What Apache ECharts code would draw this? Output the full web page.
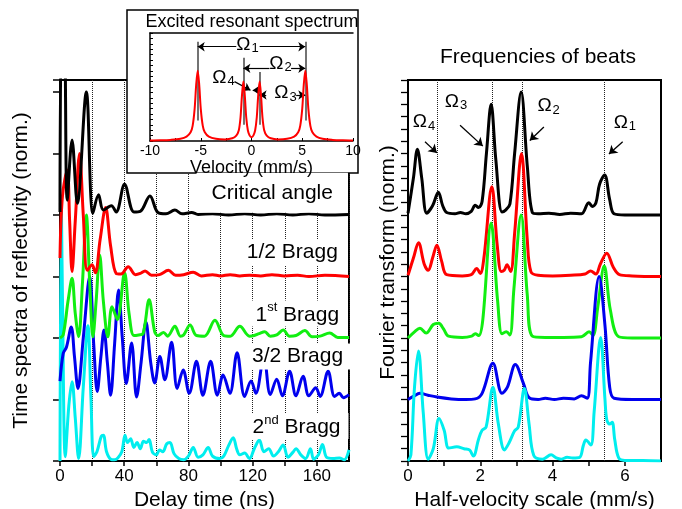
<!DOCTYPE html>
<html><head><meta charset="utf-8">
<script src="https://cdn.jsdelivr.net/npm/echarts/dist/echarts.min.js"></script>
<style>html,body{margin:0;padding:0;background:#fff}#c{width:682px;height:509px}</style>
</head><body><div id="c"></div>
<script>
// ---------- LEFT PANEL: time spectra (delay time ns, normalized value above each baseline) ----------
const timeCritical = [[0,0.05],[1,3.0],[2.6,3.0],[4.5,0.24],[7.5,1.22],[10.8,0.19],[16.4,2.0],[20.5,0.03],[24,0.33],[27,0.08],[32,0.15],[35,0.05],[40.2,0.5],[46,0.05],[50,0.06],[56,0.31],[61,0.04],[66,0.02],[71.5,0.08],[76,0.02],[82,0.04],[86,0.01],[95,0.02],[105,0.0],[115,0.02],[125,0.0],[135,0.02],[145,0.0],[155,0.02],[165,0.0],[180,0.01]];
const timeHalfBragg = [[0,0.3],[1.5,1.3],[4.5,1.73],[6,0.9],[7.5,0.08],[9.5,0.9],[12.2,2.0],[14.5,1.0],[17,0.1],[20,0.19],[22,0.06],[25,0.6],[28.4,1.12],[31.5,0.5],[35,0.05],[38,0.04],[42.5,0.16],[47,0.03],[50,0.05],[53,0.09],[57,0.02],[62,0.03],[67.5,0.1],[72,0.02],[77,0.03],[83,0.07],[88,0.01],[95,0.03],[100,0.01],[106,0.03],[112,0.01],[118,0.02],[125,0.01],[132,0.03],[140,0.01],[148,0.02],[155,0.0],[165,0.02],[180,0.0]];
const timeFirstBragg = [[0,0.0],[2,0.05],[5,0.6],[7.5,0.97],[9.5,0.4],[11.6,0.02],[14,0.9],[16.4,2.0],[18.5,0.9],[20.5,0.02],[22.5,0.6],[24.7,1.35],[27,0.6],[29.8,0.02],[32.4,0.51],[35.7,0.3],[40.2,1.06],[43,0.4],[46,0.04],[49,0.05],[51.7,0.07],[55.5,0.62],[59,0.1],[61,0.04],[64.5,0.09],[67,0.03],[71.6,0.19],[75,0.03],[77,0.05],[81,0.21],[85,0.04],[90,0.03],[96.5,0.29],[102,0.04],[106,0.03],[112,0.19],[118,0.03],[121,0.04],[124,0.07],[127.6,0.1],[131,0.03],[135,0.05],[139,0.13],[143,0.03],[147,0.04],[152.5,0.12],[157,0.02],[162,0.03],[168,0.08],[173,0.01],[180,0.01]];
const timeThreeHalfBragg = [[0,0.3],[2,0.75],[4,0.85],[7,1.18],[9,0.7],[11.2,0.18],[14.5,1.0],[18.5,2.0],[21,0.9],[23.2,0.13],[25.5,0.7],[27.4,1.13],[29.5,0.6],[31.5,0.07],[34,0.9],[36.5,1.78],[38.8,1.0],[41.3,0.26],[44.6,0.92],[47.7,0.04],[50.5,0.6],[53.5,1.26],[56.5,0.6],[59,0.27],[62.2,0.7],[65.3,0.32],[69.5,0.93],[73,0.18],[76.7,0.48],[80.5,0.1],[85,0.62],[89,0.07],[93.8,0.62],[98,0.07],[101.6,0.4],[105.8,0.1],[110.3,0.76],[115,0.05],[119,0.3],[122,0.1],[127,0.7],[131,0.08],[135,0.33],[138.5,0.06],[143,0.46],[147,0.06],[151.4,0.38],[155,0.06],[159.3,0.19],[162,0.05],[167,0.46],[171,0.05],[174,0.1],[176.5,0.03],[180,0.08]];
const timeSecondBragg = [[0,0],[0.8,4.3],[1.6,2.5],[3.3,0.07],[5.5,0.9],[7.5,1.29],[9.5,0.7],[11.6,0.04],[14.5,1.2],[17.4,2.2],[19.3,1.0],[21,0.07],[23,0.15],[25.7,0.4],[27,0.42],[29,0.15],[31.6,0.03],[34,0.02],[36,0.05],[38.5,0.15],[40.5,0.42],[42,0.3],[44,0.36],[46,0.22],[48,0.3],[50,0.2],[52,0.32],[54,0.3],[55.5,0.35],[57.5,0.15],[60,0.1],[62,0.18],[64,0.15],[66.5,0.28],[68.5,0.3],[71,0.12],[74,0.04],[77,0.02],[80,0.08],[83,0.22],[86,0.06],[89,0.1],[92.3,0.22],[95,0.08],[99.5,0.04],[102,0.08],[105,0.25],[107.9,0.38],[110,0.2],[112,0.1],[115,0.13],[118,0.04],[121,0.2],[124.2,0.34],[127,0.15],[130,0.2],[133,0.08],[136,0.15],[139,0.26],[142,0.06],[145,0.14],[147,0.2],[150,0.1],[153,0.04],[156,0.2],[158,0.03],[161,0.1],[163.5,0.27],[166,0.06],[170,0.04],[174,0.05],[177,0.02],[180,0.18]];

// ---------- RIGHT PANEL: Fourier transform (half-velocity mm/s, normalized) ----------
const ftCritical = [[0,0.03],[0.15,0.6],[0.26,1.07],[0.38,0.6],[0.52,0.03],[0.68,0.15],[0.84,0.37],[0.96,0.15],[1.07,0.04],[1.3,0.02],[1.45,0.04],[1.6,0.02],[1.75,0.06],[1.86,0.16],[1.95,0.12],[2.05,0.22],[2.17,1.0],[2.3,1.8],[2.43,0.9],[2.6,0.05],[2.7,0.08],[2.82,0.18],[2.95,1.0],[3.13,2.0],[3.3,0.8],[3.44,0.04],[3.6,0.02],[3.9,0.03],[4.2,0.01],[4.5,0.03],[4.8,0.02],[5.0,0.2],[5.1,0.14],[5.2,0.2],[5.3,0.5],[5.44,0.65],[5.58,0.25],[5.7,0.02],[6.0,0.0],[7,0.0]];
const ftHalfBragg = [[0,0.02],[0.15,0.3],[0.29,0.55],[0.45,0.2],[0.56,0.1],[0.68,0.3],[0.8,0.51],[0.93,0.25],[1.07,0.03],[1.5,0.01],[1.75,0.03],[1.9,0.13],[2.0,0.05],[2.1,0.3],[2.32,1.46],[2.47,0.5],[2.58,0.08],[2.66,0.1],[2.74,0.19],[2.84,0.08],[2.95,0.7],[3.14,2.0],[3.3,0.6],[3.4,0.08],[3.6,0.02],[4.0,0.01],[4.5,0.02],[4.9,0.04],[5.05,0.09],[5.2,0.04],[5.32,0.2],[5.5,0.38],[5.68,0.15],[5.85,0.03],[6.2,0.01],[7,0.0]];
const ftFirstBragg = [[0,0.0],[0.18,0.1],[0.33,0.16],[0.5,0.08],[0.7,0.22],[0.85,0.24],[0.98,0.15],[1.12,0.03],[1.5,0.01],[1.76,0.03],[1.86,0.07],[1.96,0.04],[2.07,0.3],[2.3,1.87],[2.48,0.6],[2.6,0.07],[2.72,0.1],[2.82,0.05],[2.93,0.8],[3.13,2.0],[3.3,0.7],[3.44,0.03],[3.8,0.01],[4.3,0.01],[4.8,0.02],[5.01,0.1],[5.12,0.04],[5.25,0.5],[5.43,1.17],[5.6,0.45],[5.83,0.02],[6.2,0.0],[7,0.0]];
const ftThreeHalfBragg = [[0,0.0],[0.15,0.05],[0.33,0.1],[0.55,0.07],[0.8,0.04],[1.2,0.01],[1.6,0.0],[1.86,0.01],[2.05,0.1],[2.35,0.59],[2.6,0.1],[2.75,0.2],[2.97,0.57],[3.2,0.25],[3.35,0.03],[3.6,0.0],[3.8,0.02],[4.05,0.0],[4.3,0.02],[4.6,0.01],[4.8,0.06],[4.96,0.02],[5.05,0.6],[5.29,2.0],[5.45,1.2],[5.58,0.2],[5.7,0.02],[6.2,0.0],[7,0.0]];
const ftSecondBragg = [[0,0.0],[0.08,0.1],[0.18,1.2],[0.29,1.79],[0.42,0.8],[0.56,0.03],[0.7,0.2],[0.86,0.69],[1.0,0.5],[1.13,0.21],[1.35,0.23],[1.55,0.2],[1.7,0.18],[1.81,0.08],[1.95,0.35],[2.05,0.5],[2.16,0.55],[2.35,1.2],[2.5,0.6],[2.67,0.18],[2.8,0.3],[2.95,0.49],[3.05,0.55],[3.22,1.18],[3.35,0.6],[3.48,0.09],[3.72,0.03],[3.96,0.1],[4.1,0.05],[4.24,0.03],[4.4,0.06],[4.56,0.05],[4.75,0.06],[4.85,0.25],[4.92,0.34],[5.06,0.26],[5.15,0.8],[5.33,2.01],[5.45,1.0],[5.5,0.67],[5.58,0.6],[5.65,0.63],[5.72,0.35],[5.83,0.05],[6.0,0.01],[6.5,0.01],[7,0.0]];

// vertical offsets of each stacked curve (one unit per curve)
const curveOffsets = [4, 3, 2, 1, 0];
const curveNames = ['Critical angle', '1/2 Bragg', '1st Bragg', '3/2 Bragg', '2nd Bragg'];
const beatFrequencies = [0.8, 2.32, 3.17, 5.42];

// ---------- INSET: excited resonant spectrum ----------
const velocity = [-10,-9,-8,-7,-6.4,-6,-5.8,-5.6,-5.45,-5.3,-5.15,-5,-4.8,-4.6,-4.2,-3.5,-2.6,-1.9,-1.5,-1.25,-1.08,-0.94,-0.8,-0.66,-0.52,-0.36,-0.18,0,0.18,0.36,0.52,0.66,0.8,0.94,1.08,1.25,1.5,1.9,2.6,3.5,4.2,4.6,4.8,5,5.15,5.3,5.45,5.6,5.8,6,6.4,7,8,9,10];
const absorption = [0.004,0.006,0.01,0.02,0.04,0.08,0.14,0.3,0.52,0.65,0.52,0.3,0.14,0.08,0.04,0.02,0.015,0.025,0.05,0.1,0.22,0.42,0.55,0.42,0.22,0.1,0.05,0.035,0.05,0.1,0.22,0.42,0.55,0.42,0.22,0.1,0.05,0.025,0.015,0.02,0.04,0.08,0.14,0.3,0.52,0.65,0.52,0.3,0.14,0.08,0.04,0.02,0.01,0.006,0.004];

const FONT = 'Liberation Sans, Arial, Helvetica, sans-serif';
const shift = (arr, off) => arr.map(p => [p[0], p[1] + off]);

const leftSets = [timeCritical, timeHalfBragg, timeFirstBragg, timeThreeHalfBragg, timeSecondBragg];
const rightSets = [ftCritical, ftHalfBragg, ftFirstBragg, ftThreeHalfBragg, ftSecondBragg];
const colors = ['#000000', '#ff0000', '#11ee11', '#0000ee', '#00eeee'];

const chart = echarts.init(document.getElementById('c'), null, {renderer: 'canvas'});

const series = [];
[4,3,2,1,0].forEach(i => {
  series.push({
    type: 'line', xAxisIndex: 0, yAxisIndex: 0, name: curveNames[i],
    data: shift(leftSets[i], curveOffsets[i]),
    smooth: 0.35, showSymbol: false, symbol: 'none', clip: true, z: 2,
    lineStyle: {color: colors[i], width: 3}, silent: true, animation: false
  });
});
[0,1,2,3,4].forEach(i => {
  series.push({
    type: 'line', xAxisIndex: 1, yAxisIndex: 1, name: 'ft' + i,
    data: shift(rightSets[i], curveOffsets[i]),
    smooth: 0.35, showSymbol: false, symbol: 'none', clip: true, z: 2,
    lineStyle: {color: colors[i], width: 3}, silent: true, animation: false
  });
});

const sub = (d) => '{o|Ω}{s|' + d + '}';
const omegaRich = {
  o: {fontSize: 19, lineHeight: 20, verticalAlign: 'top', fontFamily: FONT, color: '#000'},
  s: {fontSize: 13, lineHeight: 13, verticalAlign: 'bottom', padding: [14, 0, 0, 1], fontFamily: FONT, color: '#000'}
};

const labelPos = [[132.2, 4.36], [144.7, 3.40], [147.8, 2.40], [148, 1.70], [147.3, 0.57]];
const labelText = ['Critical angle', '1/2 Bragg', '{a|1}{p|st}{a| Bragg}', '3/2 Bragg', '{a|2}{p|nd}{a| Bragg}'];
series.push({
  type: 'line', xAxisIndex: 0, yAxisIndex: 0, data: [], silent: true,
  markPoint: {
    z: 5, symbol: 'circle', symbolSize: 0, animation: false,
    data: labelPos.map((p, i) => ({
      coord: p,
      label: {
        show: true, position: 'inside', formatter: labelText[i],
        fontSize: 21, fontFamily: FONT, color: '#000', lineHeight: 24,
        backgroundColor: '#fff', padding: i === 0 ? [8, 15, 8, 15] : [1, 8, 1, 8],
        rich: {
          a: {fontSize: 21, lineHeight: 24, verticalAlign: 'bottom', fontFamily: FONT, color: '#000'},
          p: {fontSize: 13, lineHeight: 13, verticalAlign: 'top', fontFamily: FONT, color: '#000'}
        }
      }
    }))
  }
});

series.push({
  type: 'line', xAxisIndex: 1, yAxisIndex: 1, data: [], silent: true, z: 1,
  markLine: {
    z: 1, silent: true, symbol: ['none', 'none'], animation: false,
    label: {show: false},
    lineStyle: {color: '#222', type: 'dotted', width: 1},
    data: beatFrequencies.map(f => ({xAxis: f}))
  }
});
const omegaLabelPos = [[0.44, 5.50], [1.33, 5.84], [3.89, 5.76], [6.0, 5.49]];
const omegaLabelTxt = [4, 3, 2, 1];
const omegaArrows = [[[0.47,5.19],[0.8,5.01]], [[1.44,5.46],[2.07,5.12]], [[3.76,5.43],[3.37,5.21]], [[5.94,5.19],[5.56,4.99]]];
series.push({
  type: 'line', xAxisIndex: 1, yAxisIndex: 1, data: [], silent: true,
  markPoint: {
    z: 6, symbol: 'circle', symbolSize: 0, animation: false,
    data: omegaLabelPos.map((p, i) => ({
      coord: p,
      label: {show: true, position: 'inside', formatter: sub(omegaLabelTxt[i]), rich: omegaRich}
    }))
  },
  markLine: {
    z: 6, silent: true, animation: false, label: {show: false},
    lineStyle: {color: '#000', type: 'solid', width: 1.3},
    data: omegaArrows.map(a => [{coord: a[0], symbol: 'none'}, {coord: a[1], symbol: 'arrow', symbolSize: 8}])
  }
});

const insetArrows = [
  [[-1.5,0.873],[-5.3,0.873]], [[0.8,0.873],[5.3,0.873]],
  [[1.77,0.673],[-0.8,0.673]], [[3.9,0.673],[5.3,0.673]],
  [[1.45,0.426],[0.8,0.426]], [[4.4,0.426],[5.3,0.426]],
  [[-1.67,0.55],[-0.1,0.47]], [[0.75,0.47],[0.12,0.47]]
];
const insetRefLines = [[-5.3,0.19,0.92],[-0.8,0.15,0.77],[0.8,0.15,0.64],[5.3,0.19,0.92]];
series.push({
  type: 'line', xAxisIndex: 2, yAxisIndex: 2, z: 12,
  data: velocity.map((v, i) => [v, absorption[i]]),
  smooth: 0.3, showSymbol: false, symbol: 'none', silent: true, animation: false,
  lineStyle: {color: '#ff0000', width: 2},
  markLine: {
    z: 12, silent: true, animation: false, label: {show: false},
    data: insetRefLines.map(r => [{coord: [r[0], r[1]], symbol: 'none', lineStyle: {color: '#444', width: 1.5, type: 'solid'}}, {coord: [r[0], r[2]], symbol: 'none'}])
      .concat(insetArrows.map(a => [{coord: a[0], symbol: 'none', lineStyle: {color: '#000', width: 1.2, type: 'solid'}}, {coord: a[1], symbol: 'arrow', symbolSize: 7}]))
  },
  markPoint: {
    z: 13, symbol: 'circle', symbolSize: 0, animation: false,
    data: [[-0.4, 0.887, 1], [2.85, 0.71, 2], [3.35, 0.44, 3], [-2.76, 0.58, 4]].map(p => ({
      coord: [p[0], p[1]],
      label: {show: true, position: 'inside', formatter: sub(p[2]), rich: omegaRich}
    }))
  }
});

const axisLineStyle = {color: '#000', width: 2};

chart.setOption({
  animation: false,
  backgroundColor: '#fff',
  grid: [
    {left: 60, top: 80, width: 289, height: 381, show: true, borderColor: '#000', borderWidth: 2, backgroundColor: 'transparent', containLabel: false, outerBoundsMode: 'none'},
    {left: 408, top: 80, width: 253, height: 381, show: true, borderColor: '#000', borderWidth: 2, backgroundColor: 'transparent', containLabel: false, outerBoundsMode: 'none'},
    {left: 150, top: 33, width: 203, height: 108, show: false, containLabel: false, outerBoundsMode: 'none', z: 10}
  ],
  xAxis: [
    {type: 'value', gridIndex: 0, min: 0, max: 180, interval: 20,
     axisLine: {show: true, onZero: false, lineStyle: axisLineStyle}, axisTick: {show: true, inside: false, length: 5, lineStyle: {width: 1.5, color: '#000'}},
     axisLabel: {show: true, fontSize: 17, fontFamily: FONT, color: '#000', margin: 7, showMaxLabel: false,
       formatter: v => (v % 40 === 0 ? String(v) : '')},
     splitLine: {show: true, lineStyle: {color: '#222', type: 'dotted', width: 1}},
     name: 'Delay time (ns)', nameLocation: 'middle', nameGap: 26,
     nameTextStyle: {fontSize: 21, fontFamily: FONT, color: '#000'}},
    {type: 'value', gridIndex: 1, min: 0, max: 7, interval: 1,
     axisLine: {show: true, onZero: false, lineStyle: axisLineStyle}, axisTick: {show: true, inside: false, length: 5, lineStyle: {width: 1.5, color: '#000'}},
     axisLabel: {show: true, fontSize: 17, fontFamily: FONT, color: '#000', margin: 7, showMaxLabel: false,
       formatter: v => (v % 2 === 0 ? String(v) : '')},
     splitLine: {show: false},
     name: 'Half-velocity scale (mm/s)', nameLocation: 'middle', nameGap: 26,
     nameTextStyle: {fontSize: 21, fontFamily: FONT, color: '#000'}},
    {type: 'value', gridIndex: 2, min: -10, max: 10, interval: 2.5, z: 10,
     axisLine: {show: true, onZero: false, lineStyle: {color: '#000', width: 1.5}}, axisTick: {show: true, inside: true, length: 3, lineStyle: {color: '#000', width: 1}},
     axisLabel: {show: true, fontSize: 14, fontFamily: FONT, color: '#000', margin: 3,
       formatter: v => (v % 5 === 0 ? String(v) : '')},
     splitLine: {show: false},
     name: 'Velocity (mm/s)', nameLocation: 'middle', nameGap: 14,
     nameTextStyle: {fontSize: 18, fontFamily: FONT, color: '#000'}},
    {type: 'value', gridIndex: 2, min: -10, max: 10, position: 'top', z: 10,
     axisLine: {show: true, onZero: false, lineStyle: {color: '#000', width: 1.5}}, axisTick: {show: false}, axisLabel: {show: false}, splitLine: {show: false}}
  ],
  yAxis: [
    {type: 'value', gridIndex: 0, min: 0, max: 6.195, interval: 1,
     axisLine: {show: true, onZero: false, lineStyle: axisLineStyle}, axisTick: {show: true, inside: false, length: 7, lineStyle: {width: 1.5, color: '#000'}},
     axisLabel: {show: false}, splitLine: {show: false},
     name: 'Time spectra of reflectivity (norm.)', nameLocation: 'middle', nameGap: 28,
     nameTextStyle: {fontSize: 21, fontFamily: FONT, color: '#000'}},
    {type: 'value', gridIndex: 1, min: 0, max: 6.195, interval: 0.2,
     axisLine: {show: true, onZero: false, lineStyle: axisLineStyle}, axisTick: {show: true, inside: false, length: 7, lineStyle: {width: 1.3, color: '#000'}},
     axisLabel: {show: false}, splitLine: {show: false},
     name: 'Fourier transform (norm.)', nameLocation: 'middle', nameGap: 9,
     nameTextStyle: {fontSize: 21, fontFamily: FONT, color: '#000', padding: [0, 0, 0, 16]}},
    {type: 'value', gridIndex: 2, min: 0, max: 1, interval: 0.05, z: 10,
     axisLine: {show: true, onZero: false, lineStyle: {color: '#000', width: 1.5}}, axisTick: {show: true, inside: true, length: 3, lineStyle: {color: '#000', width: 1}},
     axisLabel: {show: false}, splitLine: {show: false}}
  ],
  graphic: [
    {type: 'rect', z: 5, shape: {x: 127, y: 10, width: 231, height: 163}, style: {fill: '#fff', stroke: '#000', lineWidth: 1.5}},
    {type: 'text', z: 11, x: 252, y: 22, style: {text: 'Excited resonant spectrum', fontSize: 18, fontFamily: FONT, fill: '#000', textAlign: 'center', textVerticalAlign: 'middle'}},
    {type: 'text', z: 11, x: 538, y: 57, style: {text: 'Frequencies of beats', fontSize: 21, fontFamily: FONT, fill: '#000', textAlign: 'center', textVerticalAlign: 'middle'}}
  ],
  series: series
});
</script></body></html>
